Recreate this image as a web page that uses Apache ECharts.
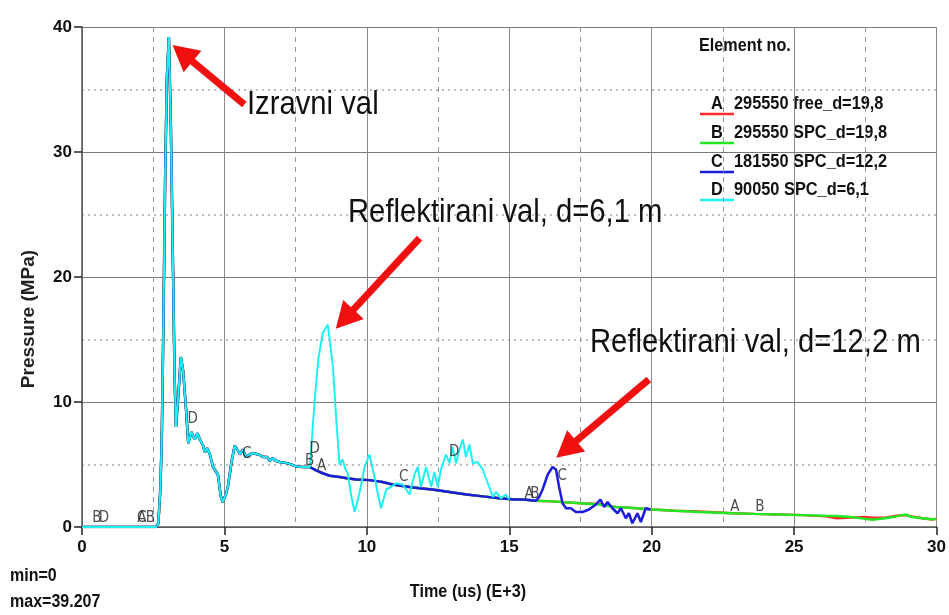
<!DOCTYPE html>
<html><head><meta charset="utf-8">
<script src="https://cdn.jsdelivr.net/npm/echarts@6/dist/echarts.min.js"></script>
<style>html,body{margin:0;padding:0;background:#fff}#c{width:949px;height:615px}</style>
</head><body><div id="c"></div><script>
// ---- data (time in us E+3, pressure in MPa) ----
const tEarly=[0,2.6,2.68,2.75,2.8,2.85,2.92,2.98,3.05,3.12,3.2,3.25,3.3,3.38,3.47,3.55,3.65,3.73,3.84,3.96,4.05,4.14,4.25,4.31,4.4,4.49,4.6,4.77,4.87,4.94,5.05,5.12,5.25,5.36,5.45,5.54,5.65,5.75,5.89,6.0,6.2,6.35,6.5,6.59,6.7,6.8,6.94,7.1,7.29,7.52,7.75,8.0];
const pEarly=[0,0,0.3,3,7,15,28,36,39.2,32,20,12,8.0,10.5,13.6,12.5,9.5,6.7,7.6,7.0,7.5,7.0,6.5,6.0,6.3,5.8,4.8,4.2,2.5,2.0,2.6,3.2,5.2,6.5,6.2,5.8,6.2,5.6,5.8,5.9,5.8,5.6,5.6,5.3,5.5,5.3,5.2,5.15,5.05,4.85,4.8,4.8];
const tMid=[8.2,8.45,8.7,9.04,9.3,9.63,10.1,10.55,10.9,11.2,11.5,11.85,12.3,12.9,13.5,14.07,14.65,15.2,15.5,15.94];
const pMid=[4.55,4.3,4.1,4.0,3.9,3.8,3.75,3.6,3.4,3.3,3.2,3.1,3.0,2.8,2.6,2.45,2.3,2.2,2.2,2.1];
const tLate=[16.5,17.5,18.15,18.74,19.5,20.03,20.8,21.66,22.83,23.6,24.47,25.3,26.1,26.5,27.0,27.5,27.74,28.2,28.6,28.9,29.13,29.5,29.84,30];
const pLateA=[2.05,1.9,1.85,1.6,1.5,1.4,1.3,1.25,1.1,1.05,1.0,0.95,0.85,0.7,0.75,0.8,0.75,0.75,0.9,0.95,0.85,0.7,0.6,0.65];
const pLateB=[2.05,1.9,1.8,1.6,1.5,1.4,1.3,1.2,1.1,1.05,1.0,0.95,0.9,0.88,0.8,0.65,0.58,0.7,0.85,1.0,0.8,0.7,0.62,0.65];
const tC=[16.05,16.17,16.35,16.52,16.64,16.75,16.87,16.99,17.16,17.34,17.57,17.8,18.04,18.2,18.33,18.45,18.62,18.8,18.92,19.09,19.2,19.32,19.5,19.62,19.79,19.96];
const pC=[2.4,3.0,4.2,4.8,4.6,3.2,1.9,1.5,1.5,1.2,1.2,1.4,1.8,2.2,1.6,2.0,1.5,1.1,1.5,0.7,1.1,0.3,1.1,0.4,1.5,1.4];
const tD=[8.17,8.3,8.45,8.63,8.81,8.92,9.04,9.15,9.25,9.33,9.45,9.57,9.74,9.92,10.09,10.27,10.4,10.5,10.68,10.85,11.03,11.26,11.5,11.67,11.79,11.9,12.08,12.26,12.37,12.49,12.6,12.78,12.9,13.01,13.13,13.25,13.37,13.48,13.6,13.72,13.89,14.07,14.18,14.3,14.42,14.53,14.71,14.88,15.0];
const pD=[10.2,13.5,15.5,16.2,12.8,8.8,5.0,5.4,4.6,4.3,2.5,1.2,2.7,4.8,5.8,4.0,2.5,1.5,3.0,3.2,3.5,3.4,2.6,4.2,4.8,3.2,4.8,3.2,4.4,3.2,4.6,5.8,5.1,6.4,5.1,6.2,7.0,5.6,6.6,5.1,5.2,4.6,3.9,3.2,2.4,2.8,2.3,2.6,2.2];
const seriesNames=['295550 free_d=19,8','295550 SPC_d=19,8','181550 SPC_d=12,2','90050 SPC_d=6,1'];
const seriesLetters=['A','B','C','D'];
const xTicks=[0,5,10,15,20,25,30];
const yTicks=[0,10,20,30,40];
// curve letter markers [time, pressure, letter]
const curveLetters=[[0.52,0.7,'B'],[0.77,0.7,'D'],[2.1,0.7,'A'],[2.1,0.7,'C'],[2.4,0.7,'B'],[3.89,8.6,'D'],[5.78,5.8,'C'],[7.99,5.3,'B'],[8.17,6.2,'D'],[8.41,4.9,'A'],[11.29,4.0,'C'],[13.07,6.0,'D'],[15.7,2.6,'A'],[15.9,2.6,'B'],[16.86,4.1,'C'],[22.92,1.6,'A'],[23.8,1.6,'B'],[30.07,1.2,'A']];
// annotation arrows [tailT, tailP, tipT, tipP]
const arrows=[[5.7,33.8,3.53,37.9],[11.85,23.1,9.22,16.63],[19.9,11.8,17.0,6.22]];
const annotations=['Izravni val','Reflektirani val, d=6,1 m','Reflektirani val, d=12,2 m'];

function zip(t,p){return t.map((v,i)=>[v,p[i]]);}
const dataA=zip(tEarly,pEarly).concat(zip(tMid,pMid),zip(tLate,pLateA));
const dataB=zip(tEarly,pEarly).concat(zip(tMid,pMid),zip(tLate,pLateB));
const dataC=zip(tEarly,pEarly).concat(zip(tMid,pMid),zip(tC,pC));
const dataD=zip(tEarly,pEarly).concat(zip(tD,pD));
const colors=['#ff2a2a','#22e822','#1c1cdc','#1ef0f0'];
const widths=[2.5,2.5,2.5,2];
const SANS="'Liberation Sans',Arial,sans-serif";
const COND="'DejaVu Sans Condensed',sans-serif";

const chart=echarts.init(document.getElementById('c'),null,{renderer:'canvas'});
const lineSeries=[dataA,dataB,dataC,dataD].map((d,i)=>({
  name:seriesNames[i],type:'line',data:d,showSymbol:false,symbol:'none',
  lineStyle:{color:colors[i],width:widths[i]},itemStyle:{color:colors[i]},z:2+i,silent:true,animation:false
}));
lineSeries.push({
  name:'letters',type:'scatter',data:curveLetters,symbolSize:0,z:10,silent:true,animation:false,
  label:{show:true,position:'inside',formatter:p=>p.data[2],color:'#222',fontSize:15,fontFamily:COND}
});
lineSeries.push({
  name:'arrows',type:'line',data:[],z:11,silent:true,animation:false,
  markLine:{silent:true,animation:false,symbol:['none','triangle'],symbolSize:[28,26],
    label:{show:false},lineStyle:{color:'#f01010',width:7,type:'solid',opacity:1},
    data:arrows.map(a=>[{coord:[a[0],a[1]]},{coord:[a[2],a[3]]}])}
});

const legendG=[{type:'text',x:699,y:46,scaleX:0.9,style:{text:'Element no.',font:"bold 18px "+SANS,fill:'#111',verticalAlign:'middle'}}];
const rowY=[104,133,162,190];
seriesLetters.forEach((L,i)=>{
  legendG.push({type:'text',x:717,y:rowY[i],scaleX:0.86,style:{text:L,font:"bold 19px "+SANS,fill:'#111',align:'center',verticalAlign:'middle'}});
  legendG.push({type:'line',shape:{x1:700,y1:rowY[i]+10,x2:734,y2:rowY[i]+10},style:{stroke:colors[i],lineWidth:2.5}});
  legendG.push({type:'text',x:734,y:rowY[i],scaleX:0.86,style:{text:seriesNames[i],font:"bold 19px "+SANS,fill:'#111',verticalAlign:'middle'}});
});
const annPos=[[247,105],[348,213],[590,343]];
const annG=annotations.map((s,i)=>({type:'text',x:annPos[i][0],y:annPos[i][1],z:20,scaleX:0.86,style:{text:s,font:"34px "+SANS,fill:'#111',verticalAlign:'middle'}}));

chart.setOption({
  backgroundColor:'#fff',animation:false,
  grid:{left:82,right:11,top:27,bottom:88,containLabel:false},
  xAxis:{type:'value',min:0,max:30,interval:5,
    axisLine:{show:true,lineStyle:{color:'#555',width:1.5}},
    axisTick:{show:true,length:8,lineStyle:{color:'#222',width:1.5}},
    axisLabel:{margin:12,fontSize:17,fontWeight:'bold',color:'#111',fontFamily:SANS,
      formatter:v=>xTicks.includes(v)?String(v):''},
    splitLine:{show:true,lineStyle:{color:'#8a8a8a',width:1}},
    minorTick:{show:false,splitNumber:2},
    minorSplitLine:{show:true,lineStyle:{color:'#999',width:1,type:[5,5]}}},
  yAxis:{type:'value',min:0,max:40,interval:10,
    axisLine:{show:true,lineStyle:{color:'#555',width:1.5}},
    axisTick:{show:true,length:8,lineStyle:{color:'#222',width:1.5}},
    axisLabel:{margin:10,fontSize:17,fontWeight:'bold',color:'#111',fontFamily:SANS,
      formatter:v=>yTicks.includes(v)?String(v):''},
    splitLine:{show:true,lineStyle:{color:'#7a7a7a',width:1}},
    minorTick:{show:false,splitNumber:2},
    minorSplitLine:{show:true,lineStyle:{color:'#aaa',width:1.5,type:[2,4]}}},
  series:lineSeries,
  graphic:[
    {type:'text',x:29,y:319,rotation:Math.PI/2,style:{text:'Pressure (MPa)',font:"bold 19px "+SANS,fill:'#222',align:'center',verticalAlign:'middle'}},
    {type:'text',x:468,y:592,scaleX:0.9,style:{text:'Time (us) (E+3)',font:"bold 18px "+SANS,fill:'#111',align:'center',verticalAlign:'middle'}},
    {type:'text',x:10,y:576,scaleX:0.89,style:{text:'min=0',font:"bold 18px "+SANS,fill:'#111',verticalAlign:'middle'}},
    {type:'text',x:10,y:602,scaleX:0.89,style:{text:'max=39.207',font:"bold 18px "+SANS,fill:'#111',verticalAlign:'middle'}}
  ].concat(legendG,annG)
});
</script></body></html>
